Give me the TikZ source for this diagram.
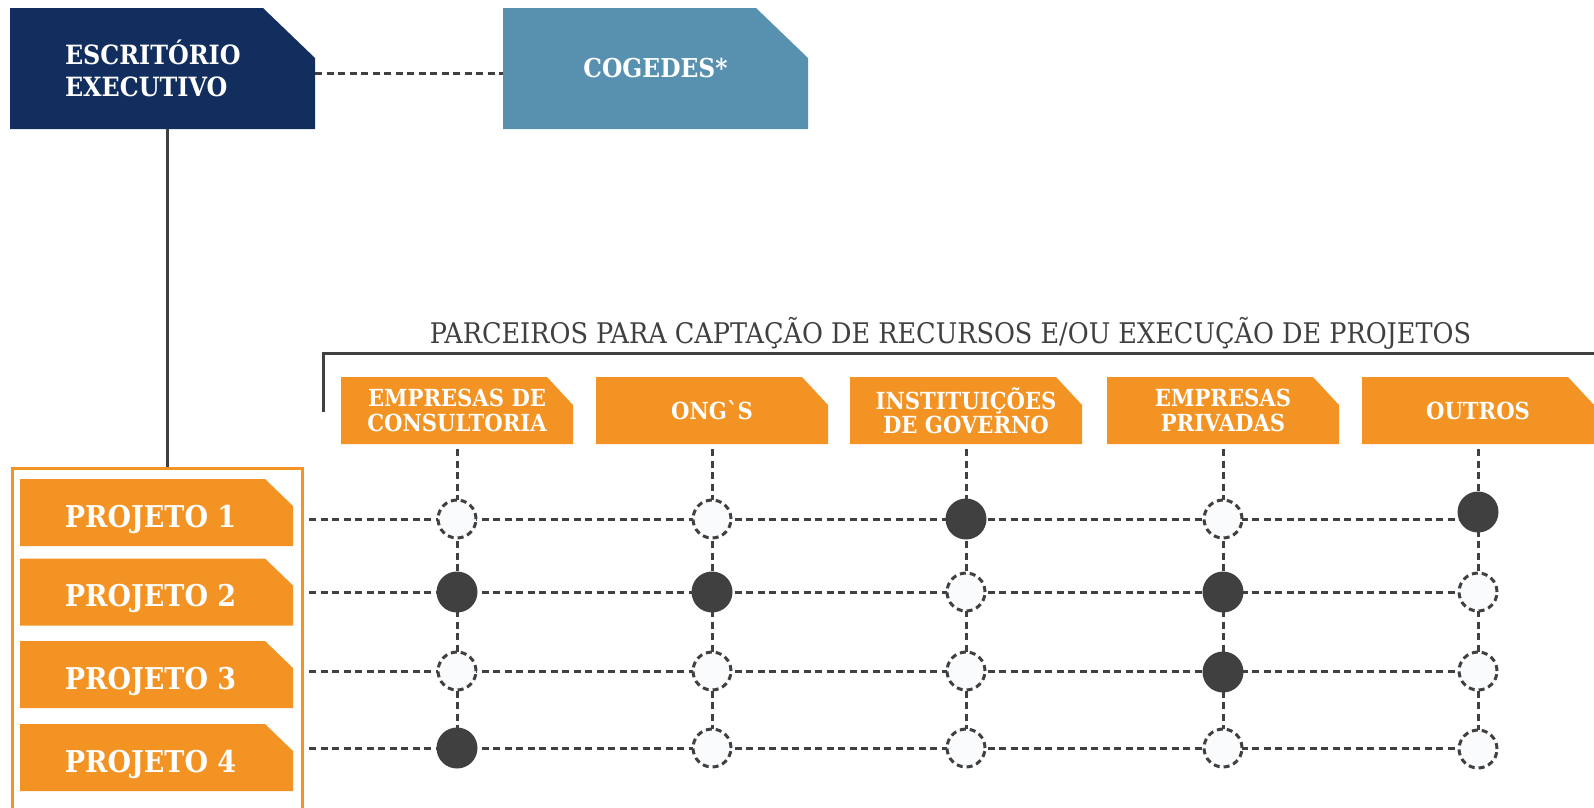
\documentclass[tikz,border=0pt]{standalone}
\usepackage{fontspec}
\setmainfont{DejaVu Serif Condensed}
\usetikzlibrary{backgrounds}
\definecolor{navy}{HTML}{122E5F}
\definecolor{steel}{HTML}{5891B0}
\definecolor{orng}{HTML}{F39324}
\definecolor{dgray}{HTML}{404040}
\definecolor{offw}{HTML}{FAFBFD}
\tikzset{
  cutbox/.style n args={3}{inner sep=0pt, text=white,
    path picture={\fill[#1] (path picture bounding box.south west) -- (path picture bounding box.north west)
      -- ([xshift=-#2]path picture bounding box.north east) -- ([yshift=-#3]path picture bounding box.north east)
      -- (path picture bounding box.south east) -- cycle;}},
  escbox/.style={cutbox={navy}{52pt}{50pt}, minimum width=305pt, minimum height=121pt,
    text width=195pt, inner xsep=55pt, align=left, font=\bfseries\fontsize{26.5}{32}\selectfont},
  cogbox/.style={cutbox={steel}{52pt}{50pt}, minimum width=305pt, minimum height=121pt,
    font=\bfseries\fontsize{26}{30}\selectfont},
  partbox/.style={cutbox={orng}{26pt}{28pt}, minimum width=232pt, minimum height=67pt, align=center,
    font=\bfseries\fontsize{23.5}{24.5}\selectfont},
  projbox/.style={cutbox={orng}{28pt}{27pt}, minimum width=273pt, minimum height=67pt,
    text height=29pt, text depth=0pt, font=\bfseries\fontsize{30}{34}\selectfont},
  dotline/.style={draw=dgray, line width=3pt, dash pattern=on 7pt off 4.5pt},
  solidline/.style={draw=dgray, line width=3pt},
  fc/.style={circle, fill=dgray, minimum size=41pt, inner sep=0pt},
  oc/.style={circle, fill=offw, draw=dgray, line width=3pt, dash pattern=on 6pt off 4pt, minimum size=38pt, inner sep=0pt},
  titlefont/.style={text=dgray, font=\fontsize{28.4}{32}\selectfont}
}
\begin{document}
\begin{tikzpicture}[x=1pt,y=-1pt]
\useasboundingbox (0,0) rectangle (1594,807);
% top boxes
\node[escbox] (esc) at (162.5,68.5) {ESCRITÓRIO\\EXECUTIVO};
\node[cogbox] (cog) at (655.5,68.5) {COGEDES*};
\draw[dotline] ([yshift=-4.5pt]esc.east) -- ([yshift=-4.5pt]cog.west);
% vertical link to project container
\coordinate (ctop) at (167,468);
\draw[solidline] (esc.south -| ctop) -- (ctop);
\draw[orng, line width=3pt] (12,812) -- (12,468) -- (302,468) -- (302,812);
% projects
\node[projbox] (pr1) at (156.5,512.5) {\hspace*{-12pt}PROJETO 1};
\node[projbox] (pr2) at (156.5,592) {\hspace*{-12pt}PROJETO 2};
\node[projbox] (pr3) at (156.5,674.5) {\hspace*{-12pt}PROJETO 3};
\node[projbox] (pr4) at (156.5,757.5) {\hspace*{-12pt}PROJETO 4};
% title and bracket
\node[titlefont, anchor=base] (title) at (950.5,343) {PARCEIROS PARA CAPTAÇÃO DE RECURSOS E/OU EXECUÇÃO DE PROJETOS};
\coordinate (bl) at (323,412);
\coordinate (bt) at (323,353);
\coordinate (br) at (1596,353);
\draw[solidline] (bl) -- (bt) -- (br);
% partners
\node[partbox] (p1) at (457,410.5) {EMPRESAS DE\\CONSULTORIA};
\node[partbox] (p2) at (712,410.5) {ONGˋS};
\node[partbox] (p3) at (966,410.5) {INSTITUIÇÕES\\DE GOVERNO};
\node[partbox] (p4) at (1223,410.5) {EMPRESAS\\PRIVADAS};
\node[partbox] (p5) at (1478,410.5) {OUTROS};
% row starts
\coordinate (s1) at (309,519);
\coordinate (s2) at (309,592);
\coordinate (s3) at (309,671);
\coordinate (s4) at (309,748);
% circles
\node[oc] (c11) at (457,519) {};
\node[oc] (c12) at (712,519) {};
\node[fc] (c13) at (966,519) {};
\node[oc] (c14) at (1223,519) {};
\node[fc] (c15) at (1478,512) {};
\node[fc] (c21) at (457,592) {};
\node[fc] (c22) at (712,592) {};
\node[oc] (c23) at (966,592) {};
\node[fc] (c24) at (1223,592) {};
\node[oc] (c25) at (1478,592) {};
\node[oc] (c31) at (457,671) {};
\node[oc] (c32) at (712,671) {};
\node[oc] (c33) at (966,671) {};
\node[fc] (c34) at (1223,672) {};
\node[oc] (c35) at (1478,671) {};
\node[fc] (c41) at (457,748) {};
\node[oc] (c42) at (712,748) {};
\node[oc] (c43) at (966,748) {};
\node[oc] (c44) at (1223,748) {};
\node[oc] (c45) at (1478,749) {};
\begin{scope}[on background layer]
  \foreach \j in {1,...,5} \draw[dotline] ([yshift=-5pt]p\j.south) -- (c4\j.center);
  \foreach \i in {1,...,4} \draw[dotline] (s\i) -- (s\i -| c\i5.center);
\end{scope}
\end{tikzpicture}
\end{document}
